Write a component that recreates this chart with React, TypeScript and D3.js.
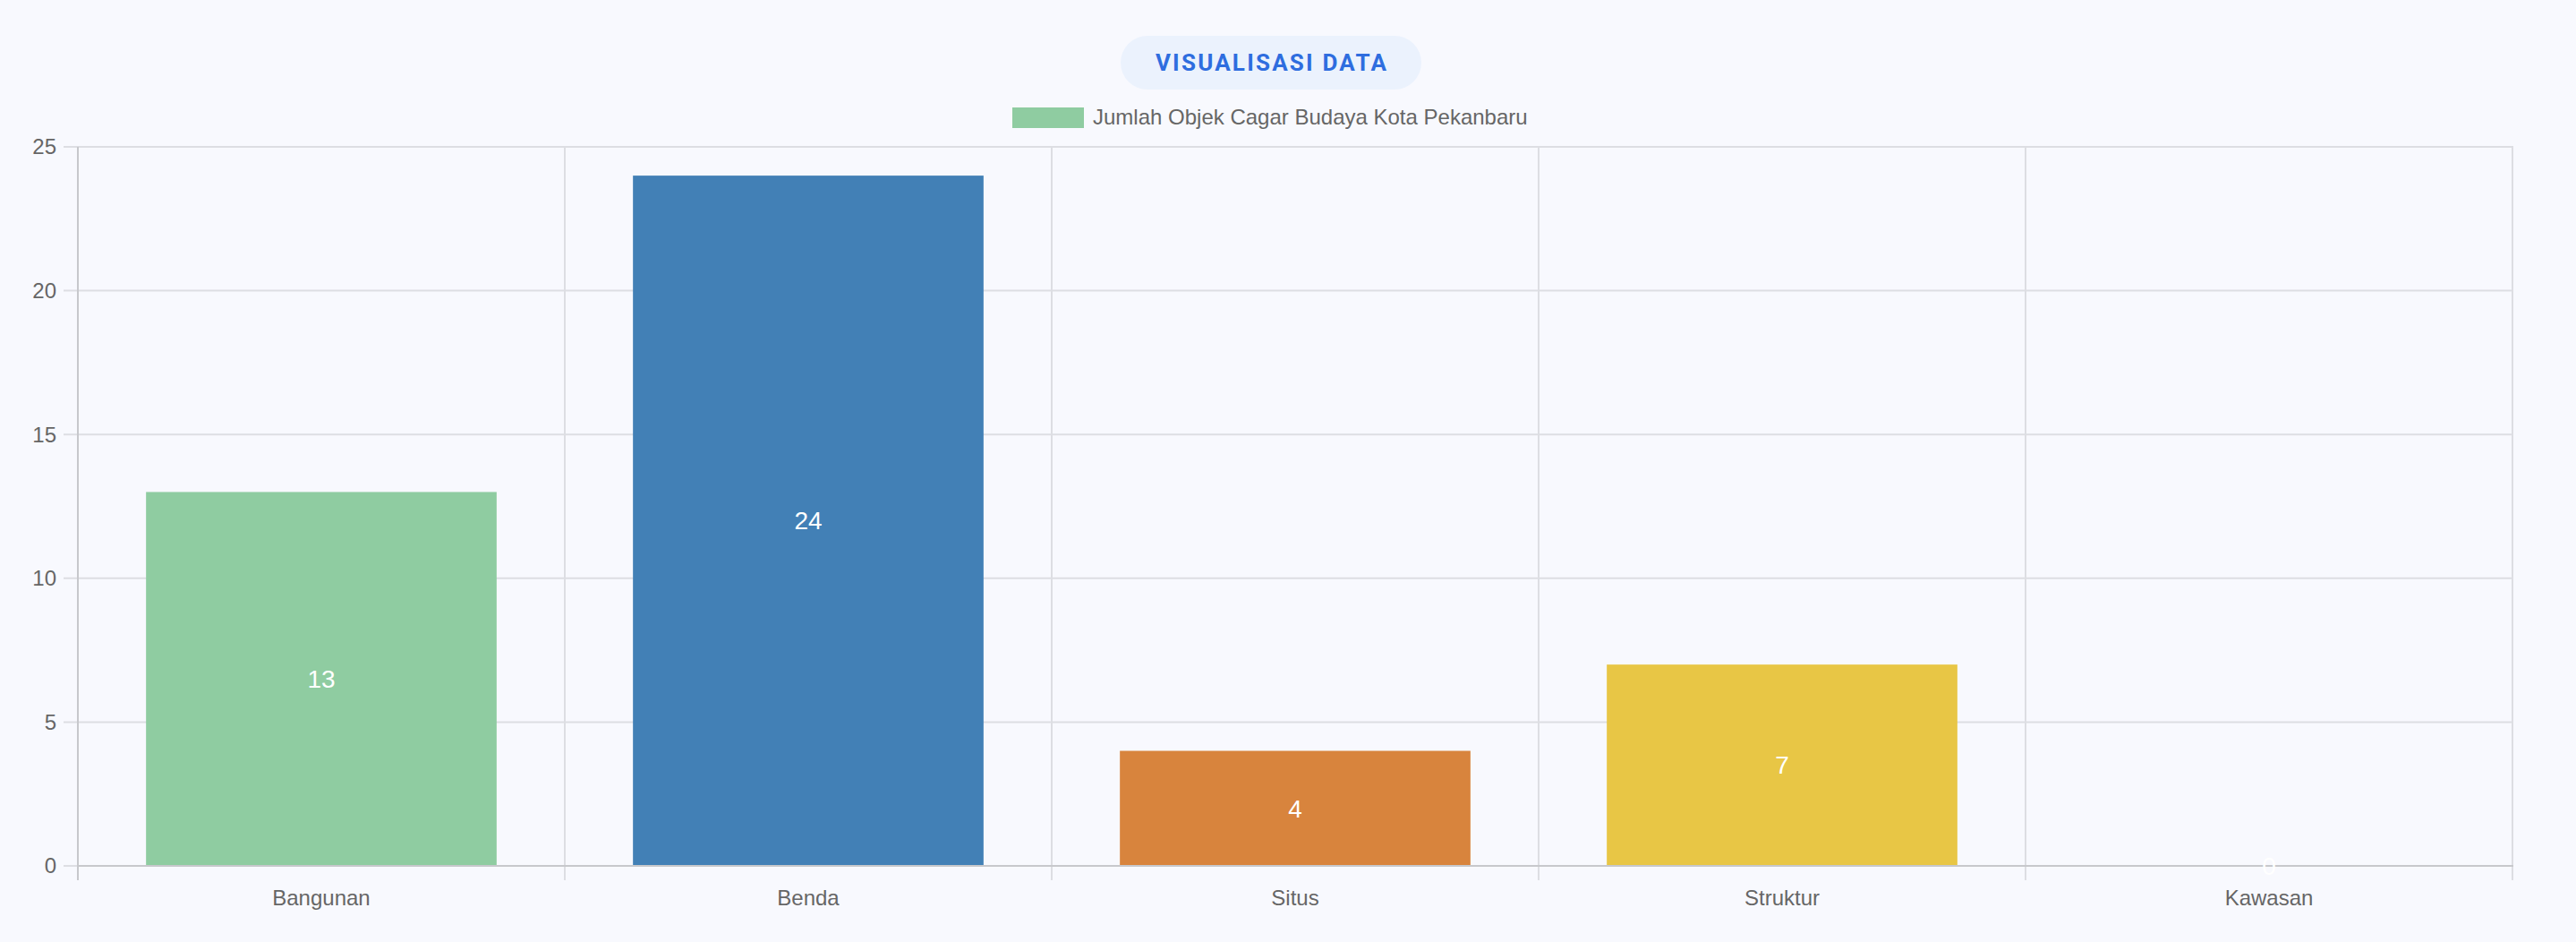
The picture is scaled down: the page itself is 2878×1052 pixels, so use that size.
import React from "react";
import * as d3 from "d3";

const categories = ["Bangunan", "Benda", "Situs", "Struktur", "Kawasan"];
const values = [13, 24, 4, 7, 0];
const barColors = ["#8fcca1", "#4280b6", "#d8843d", "#e8c645", "#b07cc6"];
const yTicks = [0, 5, 10, 15, 20, 25];
const seriesLabel = "Jumlah Objek Cagar Budaya Kota Pekanbaru";
const titleText = "VISUALISASI DATA";

const W = 2878;
const H = 1052;

export default function App() {
  const x = d3.scaleBand<string>().domain(categories).range([87, 2807]).paddingInner(0).paddingOuter(0);
  const y = d3.scaleLinear().domain([0, 25]).range([967, 164]);
  const bw = x.bandwidth();
  const font = "'Liberation Sans', Arial, Helvetica, sans-serif";
  const gridColor = "#dddee3";
  const axisColor = "#c7c8cc";
  const boundaries = categories.map((c) => x(c) as number).concat([x.range()[1]]);

  return (
    <svg width={W} height={H} style={{ position: "absolute", left: 0, top: 0, display: "block" }}>
      <rect x={0} y={0} width={W} height={H} fill="#f8f9fe" />
      {/* title pill */}
      <rect x={1252} y={40} width={336} height={60} rx={30} ry={30} fill="#ebf2fd" />
      <text x={1421} y={70} dy="0.36em" textAnchor="middle" fontFamily="Roboto, 'Noto Sans', sans-serif" fontWeight={700} fontSize={26} letterSpacing={2.2} fill="#2e6ddf">
        {titleText}
      </text>
      {/* legend */}
      <rect x={1131} y={120} width={80} height={23} fill={barColors[0]} />
      <text x={1221} y={131} dy="0.35em" fontFamily={font} fontSize={24} fill="#666666">
        {seriesLabel}
      </text>
      {/* horizontal grid */}
      {yTicks.map((t) => (
        <line key={"h" + t} x1={71} x2={2808} y1={y(t)} y2={y(t)} stroke={gridColor} strokeWidth={2} />
      ))}
      {/* vertical grid */}
      {boundaries.map((b, i) => (
        <line key={"v" + i} x1={b} x2={b} y1={164} y2={983} stroke={gridColor} strokeWidth={2} />
      ))}
      {/* bars */}
      {categories.map((c, i) => (
        <rect
          key={c}
          x={(x(c) as number) + bw * 0.14}
          width={bw * 0.72}
          y={y(values[i])}
          height={Math.max(0, y(0) - 1 - y(values[i]))}
          fill={barColors[i]}
        />
      ))}
      {/* axis lines */}
      <line x1={87} x2={87} y1={164} y2={983} stroke={axisColor} strokeWidth={2} />
      <line x1={87} x2={2808} y1={y(0)} y2={y(0)} stroke={axisColor} strokeWidth={2} />
      {/* y tick labels */}
      {yTicks.map((t) => (
        <text key={"yl" + t} x={63} y={y(t)} dy="0.35em" textAnchor="end" fontFamily={font} fontSize={24} fill="#666666">
          {t}
        </text>
      ))}
      {/* x tick labels */}
      {categories.map((c) => (
        <text key={"xl" + c} x={(x(c) as number) + bw / 2} y={1003} dy="0.35em" textAnchor="middle" fontFamily={font} fontSize={24} fill="#666666">
          {c}
        </text>
      ))}
      {/* data labels */}
      {categories.map((c, i) => (
        <text
          key={"dl" + c}
          x={(x(c) as number) + bw / 2}
          y={(y(values[i]) + y(0)) / 2}
          dy="0.35em"
          textAnchor="middle"
          fontFamily={font}
          fontSize={28}
          fill="#ffffff"
        >
          {values[i]}
        </text>
      ))}
    </svg>
  );
}
